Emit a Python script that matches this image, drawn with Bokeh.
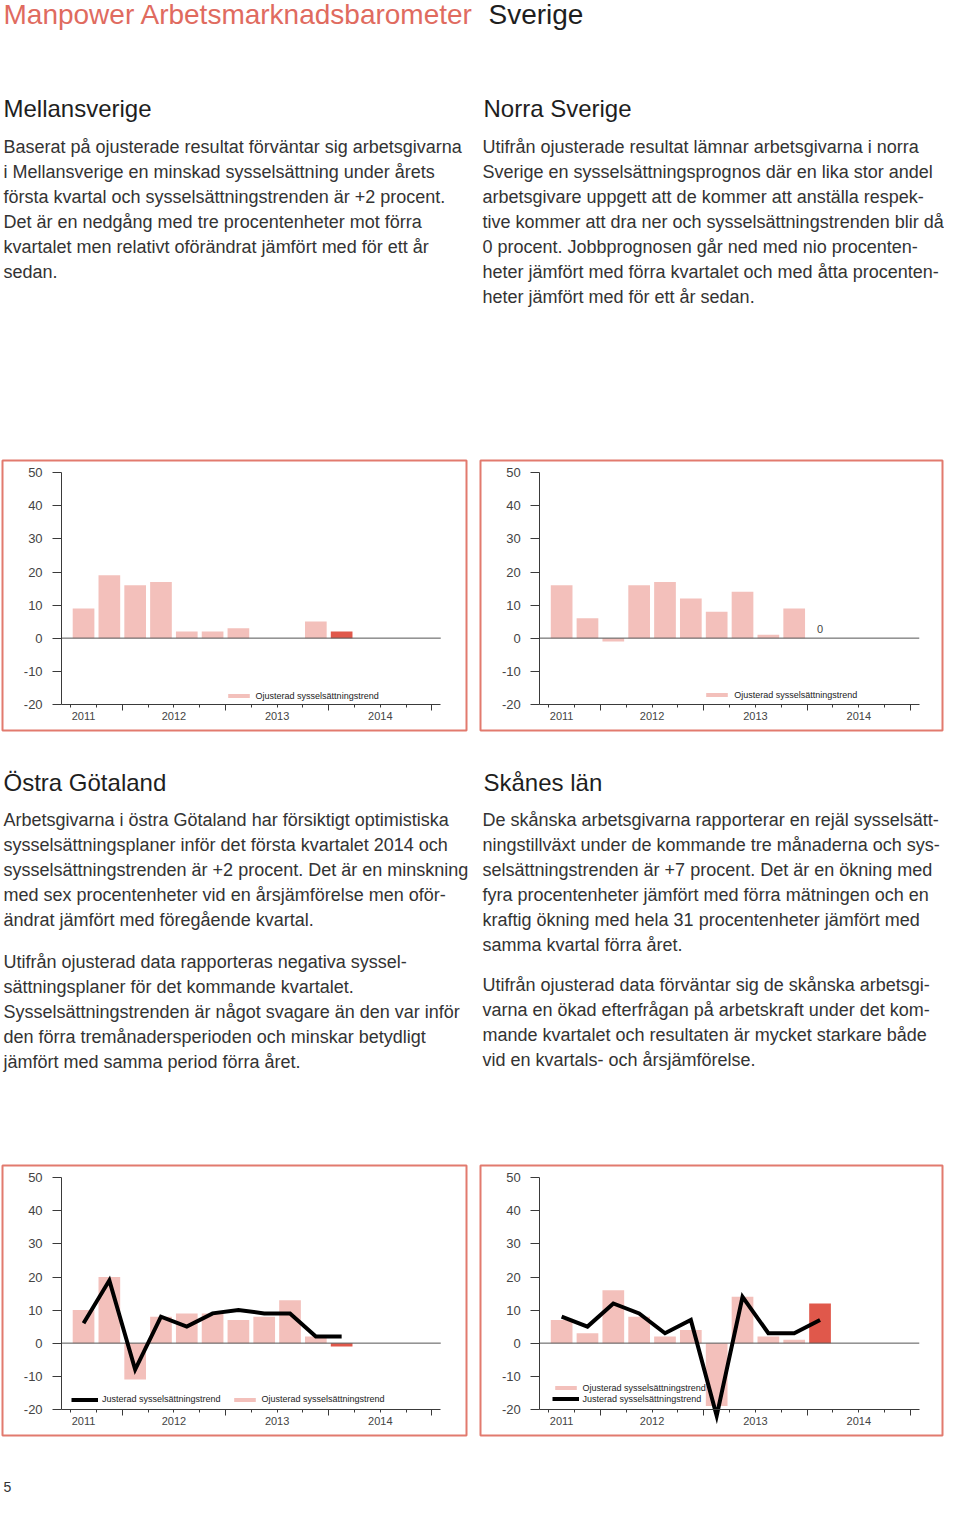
from bokeh.plotting import figure
from bokeh.layouts import column, row
from bokeh.models import (Range1d, LinearAxis, FixedTicker, Legend, LegendItem,
                          CustomJSTickFormatter, ColumnDataSource)
from bokeh.core.properties import value
from bokeh.embed import file_html
from bokeh.resources import INLINE

# ---------------- data ----------------
quarter_index = list(range(11))
year_labels = ["2011", "2012", "2013", "2014"]
year_label_pos = [0, 3.5, 7.5, 11.5]
y_ticks = [-20, -10, 0, 10, 20, 30, 40, 50]

mellansverige_ojusterad = [9, 19, 16, 17, 2, 2, 3, 0, 0, 5, 2]
norra_ojusterad = [16, 6, -1, 16, 17, 12, 8, 14, 1, 9, 0]
ostra_ojusterad = [10, 20, -11, 8, 9, 9, 7, 8, 13, 2, -1]
ostra_justerad = [6, 19, -8, 8, 5, 9, 10, 9, 9, 2, 2]
skane_ojusterad = [7, 3, 16, 8, 2, 4, -19, 14, 2, 1, 12]
skane_justerad = [8, 5, 12, 9, 3, 7, -22, 14, 3, 3, 7]

label_ojust = "Ojusterad sysselsättningstrend"
label_just = "Justerad sysselsättningstrend"

title_red = "Manpower Arbetsmarknadsbarometer"
title_black = "Sverige"

head_mellan = "Mellansverige"
text_mellan = [
    "Baserat på ojusterade resultat förväntar sig arbetsgivarna",
    "i Mellansverige en minskad sysselsättning under årets",
    "första kvartal och sysselsättningstrenden är +2 procent.",
    "Det är en nedgång med tre procentenheter mot förra",
    "kvartalet men relativt oförändrat jämfört med för ett år",
    "sedan.",
]
head_norra = "Norra Sverige"
text_norra = [
    "Utifrån ojusterade resultat lämnar arbetsgivarna i norra",
    "Sverige en sysselsättningsprognos där en lika stor andel",
    "arbetsgivare uppgett att de kommer att anställa respek-",
    "tive kommer att dra ner och sysselsättningstrenden blir då",
    "0 procent. Jobbprognosen går ned med nio procenten-",
    "heter jämfört med förra kvartalet och med åtta procenten-",
    "heter jämfört med för ett år sedan.",
]
head_ostra = "Östra Götaland"
text_ostra_1 = [
    "Arbetsgivarna i östra Götaland har försiktigt optimistiska",
    "sysselsättningsplaner inför det första kvartalet 2014 och",
    "sysselsättningstrenden är +2 procent. Det är en minskning",
    "med sex procentenheter vid en årsjämförelse men oför-",
    "ändrat jämfört med föregående kvartal.",
]
text_ostra_2 = [
    "Utifrån ojusterad data rapporteras negativa syssel-",
    "sättningsplaner för det kommande kvartalet.",
    "Sysselsättningstrenden är något svagare än den var inför",
    "den förra tremånadersperioden och minskar betydligt",
    "jämfört med samma period förra året.",
]
head_skane = "Skånes län"
text_skane_1 = [
    "De skånska arbetsgivarna rapporterar en rejäl sysselsätt-",
    "ningstillväxt under de kommande tre månaderna och sys-",
    "selsättningstrenden är +7 procent. Det är en ökning med",
    "fyra procentenheter jämfört med förra mätningen och en",
    "kraftig ökning med hela 31 procentenheter jämfört med",
    "samma kvartal förra året.",
]
text_skane_2 = [
    "Utifrån ojusterad data förväntar sig de skånska arbetsgi-",
    "varna en ökad efterfrågan på arbetskraft under det kom-",
    "mande kvartalet och resultaten är mycket starkare både",
    "vid en kvartals- och årsjämförelse.",
]
page_number = "5"

# ---------------- style ----------------
FONT = "Liberation Sans"
TEXT = "#333333"
HEAD = "#1e1e1e"
SALMON = "#e06b5f"
BORDER = "#e27a6e"
PINK = "#f3c0bb"
RED = "#e0584b"
AXIS = "#3a3a3a"
ZERO = "#555555"

Y_RANGE = (-27.95, 53.75)
X_START = -3.14
Y_AXIS_X = -0.85
X_AXIS_END = 13.84


def text_fig(width, height):
    p = figure(width=width, height=height, x_range=Range1d(0, width), y_range=Range1d(height, 0),
               x_axis_type=None, y_axis_type=None, toolbar_location=None,
               output_backend="svg", min_border=0)
    p.outline_line_color = None
    return p


def put(p, x, y0, lines, size=18, color=TEXT, step=25):
    p.text(x=[x] * len(lines), y=[y0 + step * i for i in range(len(lines))], text=lines,
           text_font=value(FONT), text_font_size=f"{size}px", text_color=color,
           text_baseline="middle", text_align="left")


def make_chart(width, frame_w, unadj, adj=None, order=("ojust",),
               orientation="vertical", loc=(0, 0), spacing=0, value_label=False,
               slot_px=25.81):
    x_end = X_START + frame_w / slot_px
    p = figure(width=width, height=280, x_range=Range1d(X_START, x_end), y_range=Range1d(*Y_RANGE),
               x_axis_type=None, y_axis_type=None, toolbar_location=None, output_backend="svg",
               min_border_left=2, min_border_right=width - 2 - frame_w,
               min_border_top=5, min_border_bottom=5)
    p.outline_line_color = BORDER
    p.outline_line_width = 2
    p.outline_line_alpha = 1.0

    colors = [PINK] * (len(unadj) - 1) + [RED]
    src = ColumnDataSource(dict(x=quarter_index, top=unadj, color=colors))
    bars = p.vbar(x="x", top="top", bottom=0, width=0.84, fill_color="color",
                  line_color=None, source=src)
    p.segment(x0=[Y_AXIS_X], y0=[0], x1=[X_AXIS_END], y1=[0], line_color=ZERO, line_width=1)
    rends = {"ojust": bars}
    if adj is not None:
        rends["just"] = p.line(x=quarter_index, y=adj, line_color="black", line_width=4,
                               line_join="miter")
    if value_label:
        p.text(x=[quarter_index[-1]], y=[unadj[-1]], text=[str(unadj[-1])],
               text_font=value(FONT), text_font_size="11px", text_color="#444444",
               text_align="center", text_baseline="middle", y_offset=-9)

    names = {"ojust": label_ojust, "just": label_just}
    items = []
    for k in order:
        if k == "ojust":
            items.append(LegendItem(label=names[k], renderers=[rends[k]], index=0))
        else:
            items.append(LegendItem(label=names[k], renderers=[rends[k]]))
    leg = Legend(items=items, location=loc, orientation=orientation,
                 glyph_width=27, glyph_height=5, label_height=11, label_standoff=4,
                 spacing=spacing, padding=0, margin=0, border_line_color=None,
                 background_fill_alpha=0, label_text_font=FONT, label_text_font_size="9px",
                 label_text_color="#222222", level="underlay")
    p.add_layout(leg)

    yax = LinearAxis(fixed_location=Y_AXIS_X, ticker=FixedTicker(ticks=y_ticks),
                     bounds=(y_ticks[0], y_ticks[-1]),
                     formatter=CustomJSTickFormatter(code="return tick.toFixed(0);"))
    yax.axis_line_color = AXIS
    yax.major_tick_line_color = AXIS
    yax.minor_tick_line_color = None
    yax.major_tick_out = 9
    yax.major_tick_in = 0
    yax.major_label_standoff = 10
    yax.major_label_text_font = FONT
    yax.major_label_text_font_size = "13px"
    yax.major_label_text_color = "#444444"
    p.add_layout(yax, "left")

    boundaries = [i - 0.5 for i in range(15)]
    year_bounds = boundaries[2::4]
    xax = LinearAxis(fixed_location=y_ticks[0],
                     ticker=FixedTicker(ticks=year_bounds, minor_ticks=boundaries),
                     bounds=(Y_AXIS_X, X_AXIS_END),
                     formatter=CustomJSTickFormatter(code="return '';"))
    xax.axis_line_color = AXIS
    xax.major_tick_line_color = AXIS
    xax.minor_tick_line_color = AXIS
    xax.major_tick_out = 6
    xax.major_tick_in = 0
    xax.minor_tick_out = 3
    xax.minor_tick_in = 0
    p.add_layout(xax, "below")

    yrax = LinearAxis(fixed_location=y_ticks[0], ticker=FixedTicker(ticks=year_label_pos),
                      formatter=CustomJSTickFormatter(
                          args=dict(pos=year_label_pos, labels=year_labels),
                          code="const i = pos.indexOf(tick); return i >= 0 ? labels[i] : '';"))
    yrax.axis_line_color = None
    yrax.major_tick_line_color = None
    yrax.minor_tick_line_color = None
    yrax.major_tick_out = 0
    yrax.major_tick_in = 0
    yrax.major_label_standoff = 8
    yrax.major_label_text_font = FONT
    yrax.major_label_text_font_size = "11px"
    yrax.major_label_text_color = "#444444"
    p.add_layout(yrax, "below")
    return p


LEFT_X = 3
RIGHT_X = 482

# ---------------- top band ----------------
top = text_fig(944, 455)
top.text(x=[LEFT_X], y=[13.5], text=[title_red], text_font=value(FONT), text_font_size="28px",
         text_color=SALMON, text_baseline="middle")
top.text(x=[488], y=[13.5], text=[title_black], text_font=value(FONT), text_font_size="28px",
         text_color=HEAD, text_baseline="middle")
put(top, LEFT_X, 107.5, [head_mellan], size=24, color=HEAD)
put(top, LEFT_X, 146, text_mellan)
put(top, RIGHT_X + 1, 107.5, [head_norra], size=24, color=HEAD)
put(top, RIGHT_X, 146, text_norra)

c1 = make_chart(478, 464, mellansverige_ojusterad, loc=(222.6, 29))
c2 = make_chart(466, 462, norra_ojusterad, loc=(223.3, 30), value_label=True, slot_px=25.84)

# ---------------- middle band ----------------
mid = text_fig(944, 425)
put(mid, LEFT_X, 46.7, [head_ostra], size=24, color=HEAD)
put(mid, LEFT_X, 84.5, text_ostra_1)
put(mid, LEFT_X, 226, text_ostra_2)
put(mid, RIGHT_X + 1, 46.7, [head_skane], size=24, color=HEAD)
put(mid, RIGHT_X, 84.5, text_skane_1)
put(mid, RIGHT_X, 249.7, text_skane_2)

c3 = make_chart(478, 464, ostra_ojusterad, ostra_justerad,
                order=("just", "ojust"), orientation="horizontal", loc=(69, 30.5), spacing=10)
c4 = make_chart(466, 462, skane_ojusterad, skane_justerad,
                order=("ojust", "just"), orientation="vertical", loc=(71.6, 31), slot_px=25.84)

foot = text_fig(944, 57)
put(foot, LEFT_X, 46, [page_number], size=14, color="#333333")

layout = column(top, row(c1, c2), mid, row(c3, c4), foot)

with open("out.html", "w") as f:
    f.write(file_html(layout, INLINE))
